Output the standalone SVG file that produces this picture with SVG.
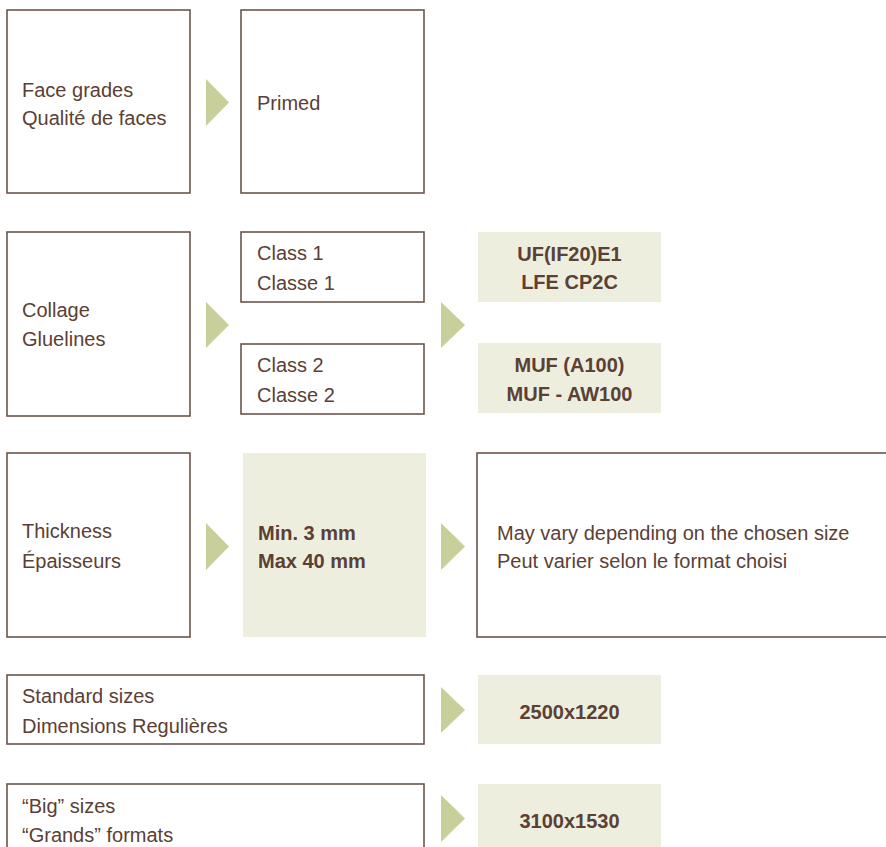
<svg xmlns="http://www.w3.org/2000/svg" width="886" height="847" viewBox="0 0 886 847">
<style>
.box{fill:#ffffff;stroke:#6b564b;stroke-width:1.6}
.fill{fill:#eeeedf}
.arr{fill:#c9cf9b}
text{font-family:"Liberation Sans",Arial,sans-serif;font-size:20px;fill:#5b4035}
.b{font-weight:bold;text-anchor:middle}
</style>
<rect width="886" height="847" fill="#ffffff"/>
<g id="face-grades"><rect class="box" x="7" y="10" width="183" height="183"/><text x="22" y="97">Face grades</text><text x="22" y="125">Qualité de faces</text></g>
<g id="primed"><rect class="box" x="241" y="10" width="183" height="183"/><text x="257" y="110">Primed</text></g>
<g id="collage"><rect class="box" x="7" y="232" width="183" height="184"/><text x="22" y="317">Collage</text><text x="22" y="346">Gluelines</text></g>
<g id="class1"><rect class="box" x="241" y="232" width="183" height="70"/><text x="257" y="260">Class 1</text><text x="257" y="290">Classe 1</text></g>
<g id="class2"><rect class="box" x="241" y="344" width="183" height="70"/><text x="257" y="372">Class 2</text><text x="257" y="402">Classe 2</text></g>
<g id="uf"><rect class="fill" x="478" y="232" width="183" height="70"/><text class="b" x="569.5" y="261">UF(IF20)E1</text><text class="b" x="569.5" y="289">LFE CP2C</text></g>
<g id="muf"><rect class="fill" x="478" y="343" width="183" height="70"/><text class="b" x="569.5" y="372">MUF (A100)</text><text class="b" x="569.5" y="401">MUF - AW100</text></g>
<g id="thickness"><rect class="box" x="7" y="453" width="183" height="184"/><text x="22" y="538">Thickness</text><text x="22" y="568">Épaisseurs</text></g>
<g id="minmax"><rect class="fill" x="243" y="453" width="183" height="184"/><text x="258" y="540" font-weight="bold">Min. 3 mm</text><text x="258" y="568" font-weight="bold">Max 40 mm</text></g>
<g id="may-vary"><rect class="box" x="477" y="453" width="420" height="184"/><text x="497" y="540">May vary depending on the chosen size</text><text x="497" y="568">Peut varier selon le format choisi</text></g>
<g id="standard"><rect class="box" x="7" y="675" width="417" height="69"/><text x="22" y="703">Standard sizes</text><text x="22" y="733">Dimensions Regulières</text></g>
<g id="std-size"><rect class="fill" x="478" y="675" width="183" height="69"/><text class="b" x="569.5" y="719">2500x1220</text></g>
<g id="big"><rect class="box" x="7" y="784" width="417" height="80"/><text x="22" y="813">“Big” sizes</text><text x="22" y="842">“Grands” formats</text></g>
<g id="big-size"><rect class="fill" x="478" y="784" width="183" height="63"/><text class="b" x="569.5" y="828">3100x1530</text></g>
<g id="connectors">
<polygon class="arr" points="206,79 229,102.5 206,126"/>
<polygon class="arr" points="206,302 229,325 206,348"/>
<polygon class="arr" points="441,302 465,325 441,348"/>
<polygon class="arr" points="206,523 229,546.5 206,570"/>
<polygon class="arr" points="441,523 465,546.5 441,570"/>
<polygon class="arr" points="441,687 465,710 441,733"/>
<polygon class="arr" points="441,795 465,818.5 441,842"/>
</g>
</svg>
